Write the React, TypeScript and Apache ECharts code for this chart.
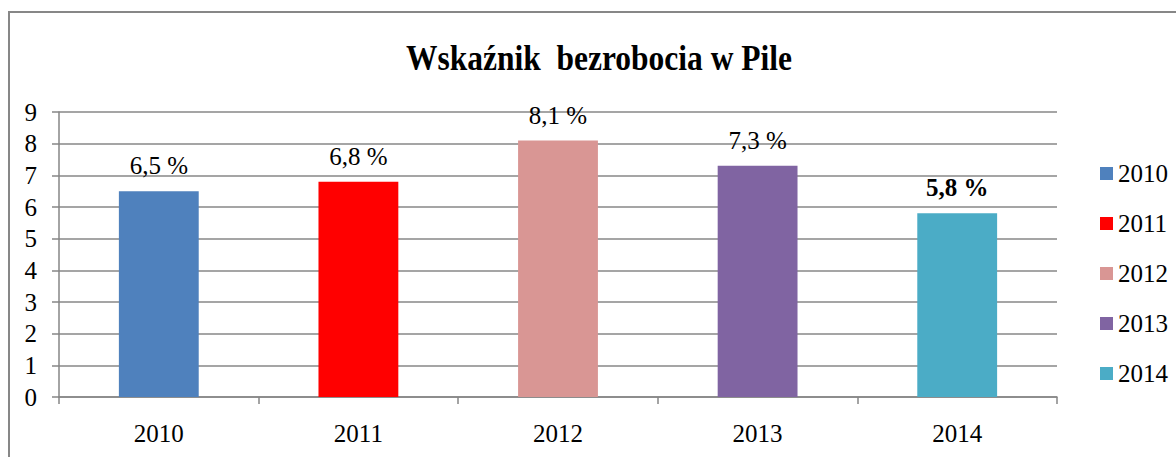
import React, { useEffect, useRef } from "react";
import * as echarts from "echarts";

const categories = ["2010", "2011", "2012", "2013", "2014"];
const values = [6.5, 6.8, 8.1, 7.3, 5.8];
const colors = ["#4F81BD", "#FF0000", "#D99694", "#8064A2", "#4BACC6"];
const yTicks = [0, 1, 2, 3, 4, 5, 6, 7, 8, 9];
const titleText = "Wskaźnik  bezrobocia w Pile";

const FONT = "Liberation Serif";

export default function App() {
  const ref = useRef<HTMLDivElement>(null);
  useEffect(() => {
    document.body.style.margin = "0";
    if (!ref.current) return;
    const chart = echarts.init(ref.current, undefined, { renderer: "svg" });
    const series = categories.map((name, i) => ({
      name,
      type: "bar",
      stack: "all",
      barWidth: "40%",
      itemStyle: { color: colors[i] },
      data: categories.map((_, j) => (j === i ? values[i] : "-")),
      label: {
        show: true,
        position: "top",
        distance: 13,
        fontFamily: FONT,
        fontSize: 25,
        color: "#000",
        fontWeight: i === categories.length - 1 ? "bold" : "normal",
        formatter: (p: any) => p.value.toFixed(1).replace(".", ",") + " %",
      },
    }));
    chart.setOption({
      animation: false,
      backgroundColor: "#fff",
      textStyle: { fontFamily: FONT },
      graphic: [
        {
          type: "rect",
          shape: { x: 9, y: 12, width: 1300, height: 600 },
          style: { fill: "none", stroke: "#878787", lineWidth: 2 },
          silent: true,
        },
        {
          type: "text",
          x: 599,
          y: 58,
          scaleX: 0.9,
          style: {
            text: titleText,
            fontFamily: FONT,
            fontSize: 35,
            fontWeight: "bold",
            fill: "#000",
            textAlign: "center",
            textVerticalAlign: "middle",
          },
        },
      ],
      grid: { left: 59, right: 119, top: 112, bottom: 60 },
      legend: {
        orient: "vertical",
        left: 1095,
        top: 155,
        itemWidth: 13,
        itemHeight: 13,
        itemGap: 23,
        icon: "rect",
        data: categories,
        textStyle: { fontFamily: FONT, fontSize: 25, color: "#000", lineHeight: 27 },
      },
      xAxis: {
        type: "category",
        data: categories,
        axisLine: { lineStyle: { color: "#868686", width: 1.5 } },
        axisTick: { show: true, length: 7, lineStyle: { color: "#868686", width: 1.5 } },
        axisLabel: { fontFamily: FONT, fontSize: 25, color: "#000", margin: 24 },
      },
      yAxis: {
        type: "value",
        min: yTicks[0],
        max: yTicks[yTicks.length - 1],
        interval: 1,
        axisLine: { show: true, lineStyle: { color: "#868686", width: 1.5 } },
        axisTick: { show: true, length: 7, lineStyle: { color: "#868686", width: 1.5 } },
        splitLine: { lineStyle: { color: "#878787", width: 1.5 } },
        axisLabel: { fontFamily: FONT, fontSize: 25, color: "#000", margin: 22 },
      },
      series,
    });
    return () => chart.dispose();
  }, []);
  return <div ref={ref} style={{ width: 1176, height: 457 }} />;
}
